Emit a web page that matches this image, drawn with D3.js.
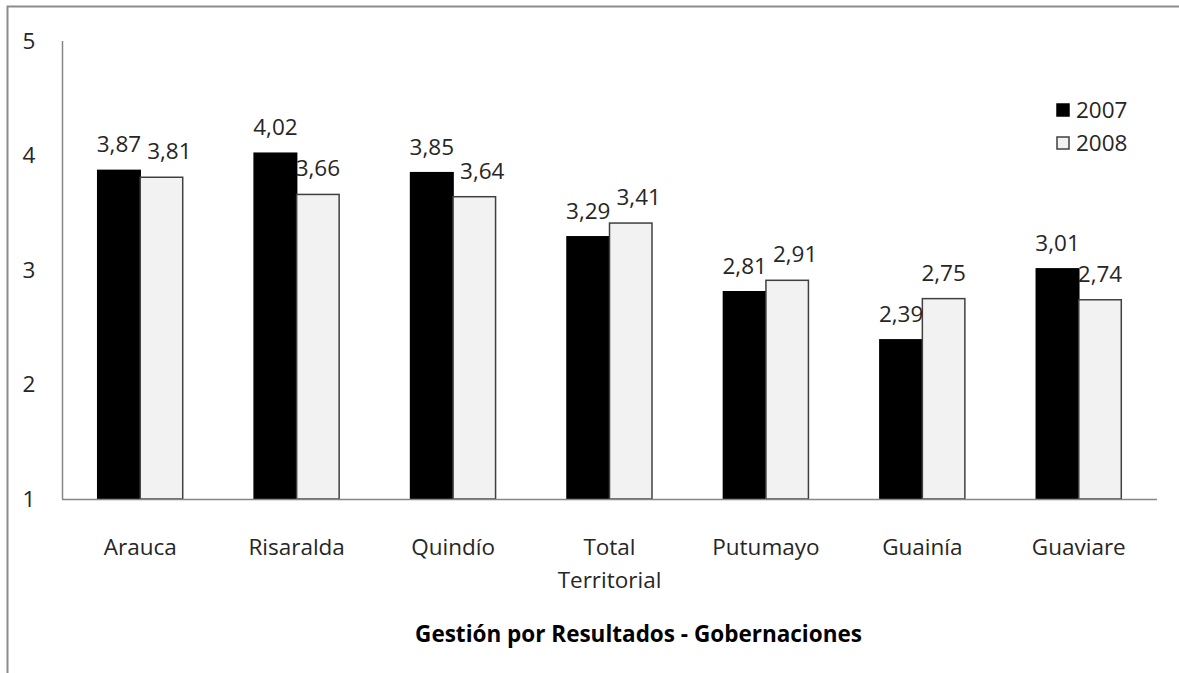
<!DOCTYPE html>
<html lang="es">
<head>
    <meta charset="UTF-8">
    <title>Gestión por Resultados - Gobernaciones</title>
    <style>
        body {
            margin: 0;
            background: #fff;
        }

        text {
            font-family: "Open Sans", "Noto Sans", sans-serif;
        }

        .tick-label, .cat-label, .val-label, .legend-label {
            font-size: 22.5px;
            fill: #262626;
        }

        .title {
            font-size: 22.5px;
            font-weight: bold;
            fill: #000;
        }
    </style>
</head>
<body>
<div id="chart"></div>

<script src="https://cdn.jsdelivr.net/npm/d3@7/dist/d3.min.js"></script>
<script>

    var categories = ["Arauca", "Risaralda", "Quindío", "Total Territorial", "Putumayo", "Guainía", "Guaviare"]
    var series = ["2007", "2008"]
    var values2007 = [3.87, 4.02, 3.85, 3.29, 2.81, 2.39, 3.01]
    var values2008 = [3.81, 3.66, 3.64, 3.41, 2.91, 2.75, 2.74]
    var yTicks = [1, 2, 3, 4, 5]
    var title = "Gestión por Resultados - Gobernaciones"

    var width = 1179, height = 673
    var plot = {left: 62, right: 1157, top: 41, bottom: 499}

    var fills = {"2007": "#000000", "2008": "#f2f2f2"}
    var strokes = {"2007": "#000000", "2008": "#404040"}

    var locale = d3.formatLocale({decimal: ",", thousands: ".", grouping: [3], currency: ["", ""]})
    var fmt = locale.format(".2f")

    var svg = d3.select("#chart").append("svg")
        .attr("width", width)
        .attr("height", height)

    // chart frame (continues past the right and bottom edges)
    svg.append("rect")
        .attr("x", 7.5).attr("y", 6.5)
        .attr("width", 1300).attr("height", 800)
        .attr("fill", "none")
        .attr("stroke", "#8c8c8c")
        .attr("stroke-width", 2)

    var x0 = d3.scaleBand()
        .domain(categories)
        .range([plot.left, plot.right])
        .paddingInner(0.4566)
        .paddingOuter(0.2283)

    var x1 = d3.scaleBand()
        .domain(series)
        .range([0, x0.bandwidth()])

    var y = d3.scaleLinear()
        .domain([1, 5])
        .range([plot.bottom, plot.top])

    var rows = categories.map(function (c, i) {
        return {cat: c, vals: [{s: "2007", v: values2007[i]}, {s: "2008", v: values2008[i]}]}
    })

    // axes lines
    svg.append("line")
        .attr("x1", plot.left + 0.5).attr("x2", plot.left + 0.5)
        .attr("y1", y(5)).attr("y2", y(1))
        .attr("stroke", "#868686").attr("stroke-width", 1.5)

    svg.selectAll(".tick-label")
        .data(yTicks)
        .enter().append("text")
        .attr("class", "tick-label")
        .attr("x", 29)
        .attr("y", function (d) { return y(d) })
        .attr("dy", "0.35em")
        .attr("text-anchor", "middle")
        .text(function (d) { return d })

    var groups = svg.selectAll(".group")
        .data(rows)
        .enter().append("g")
        .attr("class", "group")
        .attr("transform", function (d) { return "translate(" + x0(d.cat) + ",0)" })

    groups.selectAll("rect")
        .data(function (d) { return d.vals })
        .enter().append("rect")
        .attr("x", function (d) { return x1(d.s) })
        .attr("y", function (d) { return y(d.v) })
        .attr("width", x1.bandwidth())
        .attr("height", function (d) { return y(1) - y(d.v) })
        .attr("fill", function (d) { return fills[d.s] })
        .attr("stroke", function (d) { return strokes[d.s] })
        .attr("stroke-width", 1.5)

    groups.selectAll(".val-label")
        .data(function (d) { return d.vals })
        .enter().append("text")
        .attr("class", "val-label")
        .attr("x", function (d) { return x1(d.s) + x1.bandwidth() / 2 })
        .attr("y", function (d) { return y(d.v) - 18 })
        .attr("text-anchor", "middle")
        .text(function (d) { return fmt(d.v) })

    // push the 2008 label right when it collides with the 2007 one
    groups.each(function () {
        var labels = d3.select(this).selectAll(".val-label").nodes()
        var a = labels[0].getBBox(), b = labels[1].getBBox()
        var vOverlap = a.y < b.y + b.height - 6 && b.y < a.y + a.height - 6
        var gap = b.x - (a.x + a.width)
        if (vOverlap && gap < 6) {
            var t = d3.select(labels[1])
            t.attr("x", +t.attr("x") + (6 - gap))
        }
    })

    svg.append("line")
        .attr("x1", plot.left).attr("x2", plot.right)
        .attr("y1", plot.bottom + 0.5).attr("y2", plot.bottom + 0.5)
        .attr("stroke", "#868686").attr("stroke-width", 1.5)

    // category labels, wrapped on spaces
    var catText = svg.selectAll(".cat-label")
        .data(categories)
        .enter().append("text")
        .attr("class", "cat-label")
        .attr("text-anchor", "middle")
        .attr("x", function (d) { return x0(d) + x0.bandwidth() / 2 })
        .attr("y", 555)

    catText.each(function (d) {
        var words = d.split(" ")
        var t = d3.select(this)
        var cx = x0(d) + x0.bandwidth() / 2
        words.forEach(function (w, i) {
            t.append("tspan").attr("x", cx).attr("dy", i === 0 ? 0 : 33).text(w)
        })
    })

    svg.append("text")
        .attr("class", "title")
        .attr("x", (plot.left + plot.right) / 2 + 29)
        .attr("y", 642)
        .attr("text-anchor", "middle")
        .text(title)

    // legend
    var legend = svg.selectAll(".legend")
        .data(series)
        .enter().append("g")
        .attr("class", "legend")
        .attr("transform", function (d, i) { return "translate(1057," + (104 + i * 33) + ")" })

    legend.append("rect")
        .attr("width", 12).attr("height", 12)
        .attr("fill", function (d) { return fills[d] })
        .attr("stroke", function (d) { return strokes[d] })
        .attr("stroke-width", 1.5)

    legend.append("text")
        .attr("class", "legend-label")
        .attr("x", 19)
        .attr("y", 6)
        .attr("dy", "0.35em")
        .text(function (d) { return d })

</script>
</body>
</html>
